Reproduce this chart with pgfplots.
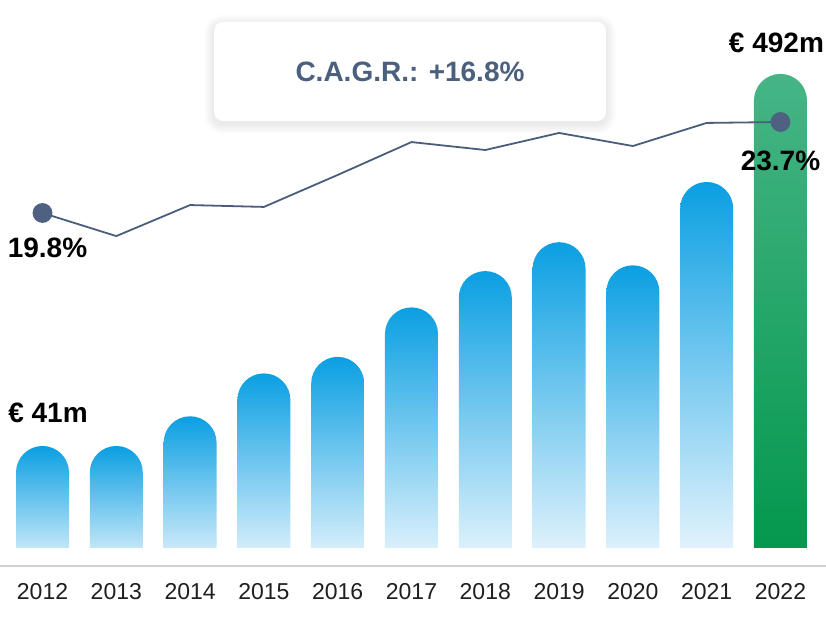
\documentclass[border=0pt]{standalone}
\usepackage{pgfplots}
\pgfplotsset{compat=1.18}
\usepackage{fontspec}
\setmainfont{Liberation Sans}
\usetikzlibrary{backgrounds}
\definecolor{barTop}{HTML}{0A9FE2}
\definecolor{barBot}{HTML}{F0F8FE}
\definecolor{grTop}{HTML}{46B586}
\definecolor{grBot}{HTML}{00964A}
\definecolor{lineC}{HTML}{4A5E7B}
\definecolor{dotC}{HTML}{4F6180}
\definecolor{txtC}{HTML}{4A607C}
\definecolor{axC}{HTML}{D0D0D0}
\pgfplotsset{
  bluebar/.style={draw=none, top color=barTop, bottom color=barBot, rounded corners=26.5pt},
  greenbar/.style={draw=none, top color=grTop, bottom color=grBot, rounded corners=26.5pt},
}
\begin{document}
\begin{tikzpicture}[x=1pt,y=1pt]
\begin{axis}[at={(0pt,51.5pt)}, anchor=south west, scale only axis,
  width=826pt, height=574.5pt,
  xmin=-0.576, xmax=10.617, ymin=0, ymax=696.4,
  axis line style={draw=none}, ytick=\empty,
  xtick={0,...,10},
  xticklabels={2012,2013,2014,2015,2016,2017,2018,2019,2020,2021,2022},
  major tick length=0pt,
  xticklabel style={anchor=center, yshift=-17.5pt, font=\fontsize{23}{23}\selectfont, text=black!88},
  /pgf/number format/assume math mode=true,
  ybar, bar width=53pt, bar shift=0pt,
  table/row sep=\\]
% values in EUR m; bar heights follow the chart's own scale (offset baseline)
\addplot[bluebar]  table[x=x, y expr=\thisrow{v}+114.8] {x v \\ 0 41 \\};
\addplot[bluebar]  table[x=x, y expr=\thisrow{v}+114.8] {x v \\ 1 41 \\};
\addplot[bluebar]  table[x=x, y expr=\thisrow{v}+114.8] {x v \\ 2 77 \\};
\addplot[bluebar]  table[x=x, y expr=\thisrow{v}+114.8] {x v \\ 3 129 \\};
\addplot[bluebar]  table[x=x, y expr=\thisrow{v}+114.8] {x v \\ 4 149 \\};
\addplot[bluebar]  table[x=x, y expr=\thisrow{v}+114.8] {x v \\ 5 209 \\};
\addplot[bluebar]  table[x=x, y expr=\thisrow{v}+114.8] {x v \\ 6 253 \\};
\addplot[bluebar]  table[x=x, y expr=\thisrow{v}+114.8] {x v \\ 7 288 \\};
\addplot[bluebar]  table[x=x, y expr=\thisrow{v}+114.8] {x v \\ 8 260 \\};
\addplot[bluebar]  table[x=x, y expr=\thisrow{v}+114.8] {x v \\ 9 361 \\};
\addplot[greenbar] table[x=x, y expr=\thisrow{v}+114.8] {x v \\ 10 492 \\};
\node[font=\fontsize{28}{28}\selectfont\bfseries, text=black, xshift=5.5pt, yshift=33pt] at (axis cs:0,155.8) {€ 41m};
\node[font=\fontsize{28}{28}\selectfont\bfseries, text=black, xshift=-4pt, yshift=31.5pt] at (axis cs:10,606.8) {€ 492m};
\end{axis}
% hide the rounded bar feet below the chart's baseline
\fill[white] (-1,50) rectangle (827,78);
\draw[axC, line width=2pt] (0,60) -- (826,60);
\begin{axis}[at={(0pt,78pt)}, anchor=south west, scale only axis,
  width=826pt, height=548pt,
  xmin=-0.576, xmax=10.617, ymin=5.44, ymax=28.93,
  axis lines=none, clip=false, table/row sep=\\]
\addplot[lineC, line width=1.8pt, mark=*, mark indices={1,11},
  mark options={dotC, fill=dotC, draw=none}, mark size=9pt]
  table[x=x, y=p] {x p \\ 0 19.8 \\ 1 18.81 \\ 2 20.14 \\ 3 20.06 \\ 4 21.43 \\ 5 22.84 \\ 6 22.50 \\ 7 23.23 \\ 8 22.67 \\ 9 23.66 \\ 10 23.7 \\};
\node[font=\fontsize{28}{28}\selectfont\bfseries, text=black, xshift=5pt, yshift=-34.5pt] at (axis cs:0,19.8) {19.8\%};
\node[font=\fontsize{28}{28}\selectfont\bfseries, text=black, yshift=-39pt] at (axis cs:10,23.7) {23.7\%};
\end{axis}
% soft shadow of the C.A.G.R. box
\foreach \e in {1,2,...,10}{
  \fill[black, opacity=0.006, rounded corners=9pt+\e pt]
    (214-\e, 504-2-\e) rectangle (606+\e, 603.5-2+\e);
}
\node[fill=white, rounded corners=9pt, minimum width=392pt, minimum height=99pt,
  font=\fontsize{28}{28}\selectfont\bfseries, text=txtC] at (410,554.5) {C.A.G.R.: +16.8\%};
\pgfresetboundingbox
\useasboundingbox (0,0) rectangle (826,626);
\begin{scope}[on background layer]
\fill[white] (0,0) rectangle (826,626);
\end{scope}
\end{tikzpicture}
\end{document}
